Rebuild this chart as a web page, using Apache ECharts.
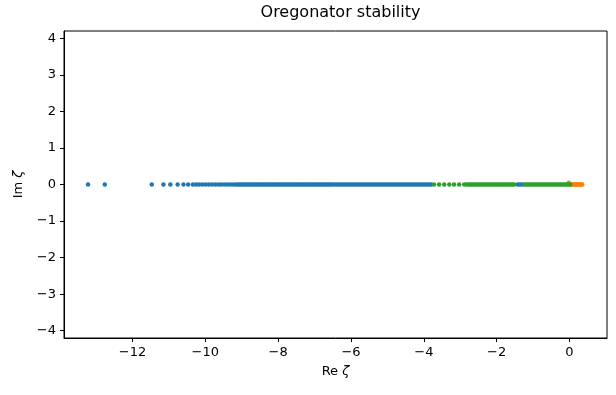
<!DOCTYPE html>
<html>
<head>
<meta charset="utf-8">
<script src="https://cdn.jsdelivr.net/npm/echarts@6/dist/echarts.min.js"></script>
<style>
html,body{margin:0;padding:0;background:#fff;}
#chart{width:616px;height:395px;}
</style>
</head>
<body>
<div id="chart"></div>
<script>
// Real parts of the eigenvalue estimates (imaginary parts are 0 unless listed)
const blueRe = [
  -13.22, -12.76, -11.47, -11.15, -10.96, -10.76, -10.60, -10.47, -10.34,
  -10.25, -10.17, -10.08, -9.99, -9.90, -9.81, -9.72, -9.63, -9.55, -9.47, -9.39, -9.31, -9.23, -9.16, -9.10,
  -9.05, -9.00, -8.95, -8.90, -8.85, -8.80, -8.75, -8.70, -8.65, -8.60, -8.55, -8.50, -8.45, -8.40, -8.35,
  -8.30, -8.25, -8.20, -8.15, -8.10, -8.05, -8.00, -7.95, -7.90, -7.85, -7.80, -7.75, -7.70, -7.65, -7.60,
  -7.55, -7.50, -7.45, -7.40, -7.35, -7.30, -7.25, -7.20, -7.15, -7.10, -7.05, -7.00, -6.95, -6.90, -6.85,
  -6.80, -6.75, -6.70, -6.65, -6.60, -6.55,
  -6.49, -6.43, -6.37, -6.31, -6.25, -6.19, -6.13, -6.07, -6.01, -5.95,
  -5.89, -5.83, -5.77, -5.71, -5.65, -5.59, -5.53, -5.47, -5.41, -5.35, -5.29, -5.23, -5.17, -5.11,
  -5.05, -4.99, -4.93, -4.87, -4.81, -4.75, -4.69, -4.63, -4.57, -4.51, -4.45, -4.39, -4.33, -4.27,
  -4.21, -4.15, -4.09, -4.03, -3.97, -3.91, -3.85, -3.80,
  -1.42, -1.36, -1.30
];
const greenRe = [
  -3.72, -3.58, -3.44, -3.30, -3.17, -3.03, -2.89,
  -2.82, -2.77, -2.72, -2.67, -2.62, -2.57, -2.52, -2.47, -2.42, -2.37, -2.32, -2.27, -2.22, -2.17,
  -2.12, -2.07, -2.02, -1.97, -1.92, -1.87, -1.82, -1.77, -1.72, -1.67, -1.62, -1.57, -1.52,
  -1.24, -1.19, -1.14, -1.09, -1.04, -0.99, -0.94, -0.89, -0.84, -0.79, -0.74, -0.69, -0.64, -0.59,
  -0.54, -0.49, -0.44, -0.39, -0.34, -0.29, -0.24, -0.19, -0.14, -0.09, -0.04, 0.02
];
const orangeRe = [-0.02, 0.02, 0.05, 0.08, 0.11, 0.14, 0.17, 0.20, 0.23, 0.26, 0.29, 0.32, 0.35];
const orangeIm = [0.05, 0, 0, 0, 0, 0, 0, 0, 0, 0, 0, 0, 0];
const xTicks = [-12, -10, -8, -6, -4, -2, 0];
const yTicks = [-4, -3, -2, -1, 0, 1, 2, 3, 4];

const pairs = (re, im) => re.map((v, i) => [v, im ? im[i] : 0]);
const fmt = v => (v < 0 ? '\u2212' + Math.abs(v) : String(v));
const FONT = 'DejaVu Sans';
const nameStyle = {rich: {
  a: {fontFamily: FONT, fontSize: 13, color: '#000'},
  b: {fontFamily: FONT, fontSize: 13, fontStyle: 'italic', color: '#000'}
}};

const chart = echarts.init(document.getElementById('chart'), null, {renderer: 'canvas'});
chart.setOption({
  animation: false,
  backgroundColor: '#fff',
  title: {
    text: 'Oregonator stability',
    left: 335.5, top: 0, textAlign: 'center',
    textStyle: {fontFamily: FONT, fontSize: 16, fontWeight: 'normal', color: '#000'}
  },
  grid: {left: 64, right: 9, top: 31, bottom: 57, show: true, borderColor: '#000', borderWidth: 1, backgroundColor: 'transparent'},
  xAxis: {
    type: 'value', min: -13.88, max: 1.03,
    axisLine: {show: true, onZero: false, lineStyle: {color: '#000', width: 1}},
    splitLine: {show: false},
    axisTick: {show: true, length: 4, inside: false, lineStyle: {color: '#000', width: 1}, customValues: xTicks},
    axisLabel: {customValues: xTicks, formatter: fmt, color: '#000', fontFamily: FONT, fontSize: 13, margin: 8},
    name: '{a|Re }{b|ζ}', nameLocation: 'middle', nameGap: 27,
    nameTextStyle: nameStyle
  },
  yAxis: {
    type: 'value', min: -4.2, max: 4.2,
    axisLine: {show: true, onZero: false, lineStyle: {color: '#000', width: 1}},
    splitLine: {show: false},
    axisTick: {show: true, length: 4, inside: false, lineStyle: {color: '#000', width: 1}, customValues: yTicks},
    axisLabel: {customValues: yTicks, formatter: fmt, color: '#000', fontFamily: FONT, fontSize: 13, margin: 8},
    name: '{a|Im }{b|ζ}', nameLocation: 'middle', nameGap: 39, nameRotate: 90,
    nameTextStyle: nameStyle
  },
  series: [
    {type: 'scatter', data: pairs(blueRe), symbolSize: 4.5, itemStyle: {color: '#1f77b4', opacity: 1}},
    {type: 'scatter', data: pairs(orangeRe, orangeIm), symbolSize: 4.5, itemStyle: {color: '#ff7f0e', opacity: 1}},
    {type: 'scatter', data: pairs(greenRe), symbolSize: 4.5, itemStyle: {color: '#2ca02c', opacity: 1}}
  ]
});
</script>
</body>
</html>
